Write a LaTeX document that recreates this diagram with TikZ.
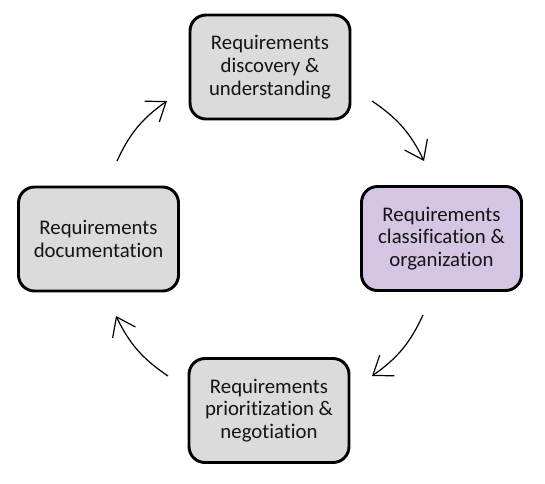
\documentclass[tikz,border=0pt]{standalone}
\usepackage{fontspec}
\setmainfont{Carlito}[Ligatures={NoCommon}]
\usetikzlibrary{arrows.meta}
\definecolor{boxgray}{HTML}{DBDBDB}
\definecolor{boxpurple}{HTML}{D3C5E3}
\definecolor{txt}{HTML}{141414}
\tikzset{
  stage/.style={draw=black, line width=2.2pt, rounded corners=12pt,
    minimum width=120pt, minimum height=78pt, align=center, inner sep=0pt,
    text=txt, font=\fontsize{15.6}{17}\selectfont},
  cyclearrow/.style={line width=0.9pt, -{Straight Barb[length=13pt,width=19pt,line width=0.9pt]}}
}
\begin{document}
\begin{tikzpicture}[x=0.75pt,y=-0.75pt]
\useasboundingbox (0,0) rectangle (545,483);
\node[stage, fill=boxgray] (disc) at (270,67) {Requirements\\discovery \&\\understanding};
\node[stage, fill=boxpurple] (class) at (441.5,238.5) {Requirements\\classification \&\\organization};
\node[stage, fill=boxgray] (prio) at (269,410.5) {Requirements\\prioritization \&\\negotiation};
\node[stage, fill=boxgray] (doc) at (98.5,239) {Requirements\\documentation};
\coordinate (a1s) at (372,101);
\coordinate (a1e) at (424,161);
\coordinate (a2s) at (423,315);
\coordinate (a2e) at (372,376);
\coordinate (a3s) at (168,376);
\coordinate (a3e) at (116,316);
\coordinate (a4s) at (117,161);
\coordinate (a4e) at (167,101);
\draw[cyclearrow] (a1s) to[bend left=15] (a1e);
\draw[cyclearrow] (a2s) to[bend left=15] (a2e);
\draw[cyclearrow] (a3s) to[bend left=15] (a3e);
\draw[cyclearrow] (a4s) to[bend left=15] (a4e);
\end{tikzpicture}
\end{document}
